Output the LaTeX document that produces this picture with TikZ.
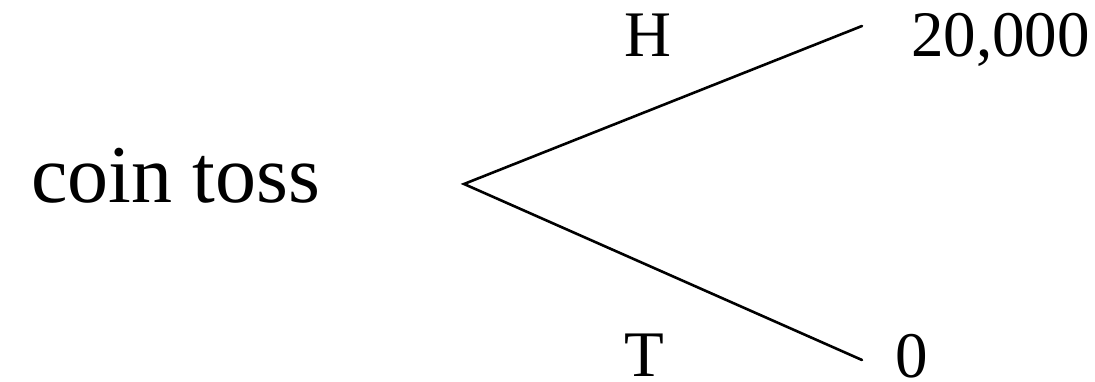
\documentclass[tikz,border=0pt]{standalone}
\usepackage{fontspec}
\setmainfont{Liberation Serif}
\begin{document}
\begin{tikzpicture}[x=1pt,y=-1pt,
  lbl/.style={inner sep=0pt,anchor=base west,font=\fontsize{65}{70}\selectfont},
  big/.style={inner sep=0pt,anchor=base west,font=\fontsize{82}{90}\selectfont},
  branch/.style={line width=2.6pt,line cap=round}]
\useasboundingbox (0,0) rectangle (1095,382);
\node[big] (coin) at (31,203) {coin toss};
\node[lbl] (H) at (624,57) {H};
\node[lbl] (T) at (624,376) {T};
\node[lbl] (win) at (911,57) {20,000};
\node[lbl] (zero) at (895.5,377) {0};
\coordinate (root) at (464,184);
\coordinate (hend) at (862,26);
\coordinate (tend) at (862,360);
\draw[branch] (hend) -- (root) -- (tend);
\end{tikzpicture}
\end{document}
